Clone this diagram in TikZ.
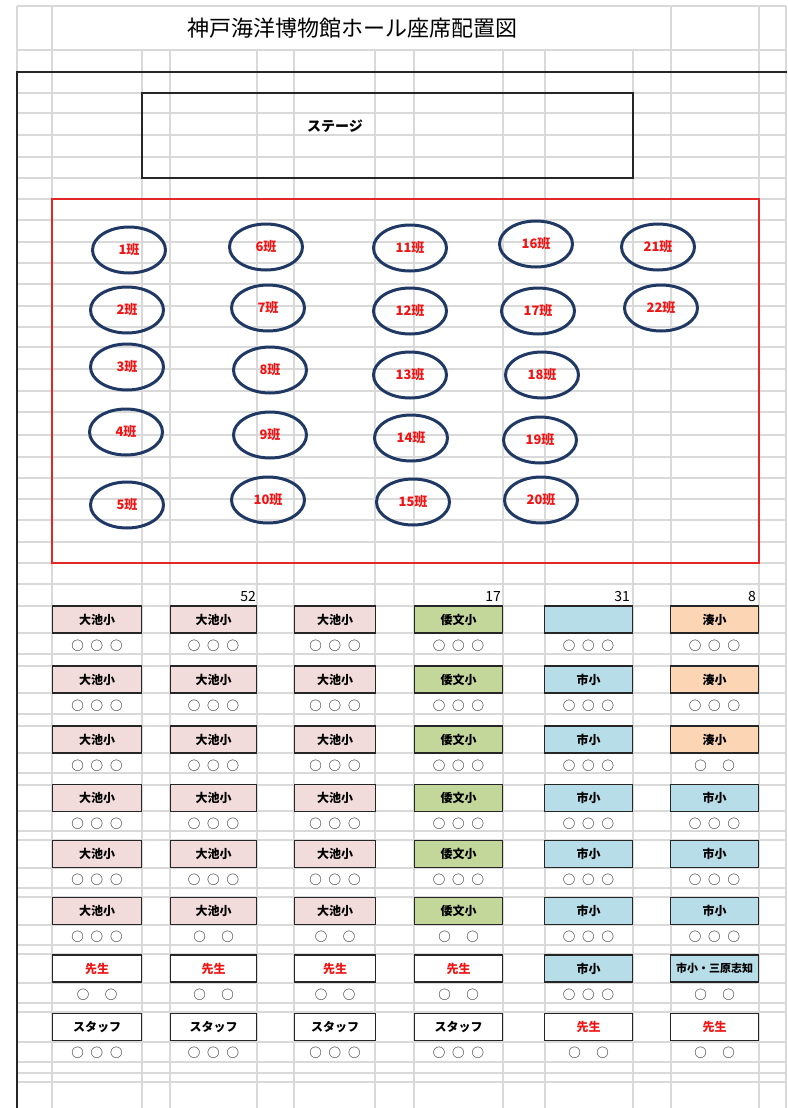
\documentclass[tikz,border=0pt]{standalone}
\usepackage{fontspec}
\usetikzlibrary{shapes.geometric}
\newfontfamily\jp{Noto Sans CJK JP}
\definecolor{kon}{HTML}{1F3864}
\definecolor{aka}{HTML}{F01414}
\definecolor{akawakuiro}{HTML}{E32626}
\definecolor{keisenc}{HTML}{D9D9D9}
\definecolor{ikeiro}{HTML}{F2DCDB}
\definecolor{shitoriiro}{HTML}{C4D79B}
\definecolor{ichiiro}{HTML}{B7DEE8}
\definecolor{minatoiro}{HTML}{FCD5B4}
\newcommand\mitsu{\makebox[19.5pt]{○}\makebox[19.5pt]{○}\makebox[19.5pt]{○}}
\newcommand\futatsu{\makebox[28pt]{○}\makebox[28pt]{○}}
\begin{document}
\begin{tikzpicture}[x=1pt, y=-1pt,
        keisen/.style={keisenc, line width=1.3pt},
        han/.style={ellipse, draw=kon, line width=3pt, minimum width=73pt,
                    minimum height=46pt, inner sep=0pt, text=aka,
                    font=\jp\bfseries\fontsize{13}{13}\selectfont},
        seki/.style={draw=black!85, line width=1.6pt, minimum height=27pt,
                     inner sep=0pt, font=\jp\bfseries\fontsize{12}{12}\selectfont},
        ike/.style={seki, fill=ikeiro},
        shitori/.style={seki, fill=shitoriiro},
        ichi/.style={seki, fill=ichiiro},
        minato/.style={seki, fill=minatoiro},
        sensei/.style={seki, fill=white, text=aka},
        staff/.style={seki, fill=white},
        c1/.style={minimum width=89pt}, c2/.style={minimum width=86pt},
        c3/.style={minimum width=81pt}, c4/.style={minimum width=88pt},
        c5/.style={minimum width=88pt}, c6/.style={minimum width=88pt},
        maru/.style={font=\jp\fontsize{12.5}{12.5}\selectfont, inner sep=0pt,
                     anchor=center, label distance=11.5pt},
        bango/.style={font=\jp\fontsize{14}{14}\selectfont, inner sep=0pt, anchor=east},
    ]
    \fill[white] (0,0) rectangle (787,1108);
    \useasboundingbox (0,0) rectangle (787,1108);
    % keisen
    \foreach \x in {17,52,671,759,786} \draw[keisen] (\x,6) -- (\x,50);
    \foreach \x in {17,52,142,170,257,294,375,414,503,545,633,671,759,786}
        \draw[keisen] (\x,50) -- (\x,1108);
    \foreach \y in {6,50,93,113,135,157,178,199,220,242,263,284,306,327,347,369,
                    391,412,435,457,478,499,520,542,563,584,606,633,654,666,693,714,
                    726,753,773,785,811,831,840,868,888,897,925,945,954,983,1003,
                    1012,1042,1062,1073,1082}
        \draw[keisen] (17,\y) -- (786,\y);
    \draw[line width=1.8pt, black!85] (17,1108) -- (17,72) -- (787,72);
    % daimei
    \node[font=\jp\fontsize{22}{22}\selectfont] (daimei) at (352,28) {神戸海洋博物館ホール座席配置図};
    % butai
    \draw[line width=1.8pt, black!85] (142,93) rectangle (633,178);
    \node[font=\jp\bfseries\fontsize{14}{14}\selectfont] (butai) at (335,126) {ステージ};
    % han
    \draw[akawakuiro, line width=1.4pt] (52,199) rectangle (759,563);
    \node[han] (h1) at (129,250) {1班};
    \node[han] (h2) at (127,310) {2班};
    \node[han] (h3) at (127,367) {3班};
    \node[han] (h4) at (126,432) {4班};
    \node[han] (h5) at (127,505) {5班};
    \node[han] (h6) at (266,247) {6班};
    \node[han] (h7) at (268,308) {7班};
    \node[han] (h8) at (270,370) {8班};
    \node[han] (h9) at (270,435) {9班};
    \node[han] (h10) at (268,500) {10班};
    \node[han] (h11) at (410,248) {11班};
    \node[han] (h12) at (410,311) {12班};
    \node[han] (h13) at (410,375) {13班};
    \node[han] (h14) at (411,438) {14班};
    \node[han] (h15) at (413,502) {15班};
    \node[han] (h16) at (536,244) {16班};
    \node[han] (h17) at (538,311) {17班};
    \node[han] (h18) at (542,375) {18班};
    \node[han] (h19) at (540,440) {19班};
    \node[han] (h20) at (541,500) {20班};
    \node[han] (h21) at (658,247) {21班};
    \node[han] (h22) at (661,308) {22班};
    % ninzuu
    \node[bango] (n52) at (256,597) {52};
    \node[bango] (n17) at (501,597) {17};
    \node[bango] (n31) at (630,597) {31};
    \node[bango] (n8) at (756,597) {8};
    % 1 retsu
    \node[ike, c1, label={[maru]below:\mitsu}] (a1) at (97,619.5) {大池小};
    \node[ike, c2, label={[maru]below:\mitsu}] (a2) at (213.5,619.5) {大池小};
    \node[ike, c3, label={[maru]below:\mitsu}] (a3) at (335,619.5) {大池小};
    \node[shitori, c4, label={[maru]below:\mitsu}] (a4) at (458.5,619.5) {倭文小};
    \node[ichi, c5, label={[maru]below:\mitsu}] (a5) at (588.5,619.5) {};
    \node[minato, c6, label={[maru]below:\mitsu}] (a6) at (714.5,619.5) {湊小};
    % 2 retsu
    \node[ike, c1, label={[maru]below:\mitsu}] (b1) at (97,679.5) {大池小};
    \node[ike, c2, label={[maru]below:\mitsu}] (b2) at (213.5,679.5) {大池小};
    \node[ike, c3, label={[maru]below:\mitsu}] (b3) at (335,679.5) {大池小};
    \node[shitori, c4, label={[maru]below:\mitsu}] (b4) at (458.5,679.5) {倭文小};
    \node[ichi, c5, label={[maru]below:\mitsu}] (b5) at (588.5,679.5) {市小};
    \node[minato, c6, label={[maru]below:\mitsu}] (b6) at (714.5,679.5) {湊小};
    % 3 retsu
    \node[ike, c1, label={[maru]below:\mitsu}] (c1) at (97,739.5) {大池小};
    \node[ike, c2, label={[maru]below:\mitsu}] (c2) at (213.5,739.5) {大池小};
    \node[ike, c3, label={[maru]below:\mitsu}] (c3) at (335,739.5) {大池小};
    \node[shitori, c4, label={[maru]below:\mitsu}] (c4) at (458.5,739.5) {倭文小};
    \node[ichi, c5, label={[maru]below:\mitsu}] (c5) at (588.5,739.5) {市小};
    \node[minato, c6, label={[maru]below:\futatsu}] (c6) at (714.5,739.5) {湊小};
    % 4 retsu
    \node[ike, c1, label={[maru]below:\mitsu}] (d1) at (97,798) {大池小};
    \node[ike, c2, label={[maru]below:\mitsu}] (d2) at (213.5,798) {大池小};
    \node[ike, c3, label={[maru]below:\mitsu}] (d3) at (335,798) {大池小};
    \node[shitori, c4, label={[maru]below:\mitsu}] (d4) at (458.5,798) {倭文小};
    \node[ichi, c5, label={[maru]below:\mitsu}] (d5) at (588.5,798) {市小};
    \node[ichi, c6, label={[maru]below:\mitsu}] (d6) at (714.5,798) {市小};
    % 5 retsu
    \node[ike, c1, label={[maru]below:\mitsu}] (e1) at (97,854) {大池小};
    \node[ike, c2, label={[maru]below:\mitsu}] (e2) at (213.5,854) {大池小};
    \node[ike, c3, label={[maru]below:\mitsu}] (e3) at (335,854) {大池小};
    \node[shitori, c4, label={[maru]below:\mitsu}] (e4) at (458.5,854) {倭文小};
    \node[ichi, c5, label={[maru]below:\mitsu}] (e5) at (588.5,854) {市小};
    \node[ichi, c6, label={[maru]below:\mitsu}] (e6) at (714.5,854) {市小};
    % 6 retsu
    \node[ike, c1, label={[maru]below:\mitsu}] (f1) at (97,911) {大池小};
    \node[ike, c2, label={[maru]below:\futatsu}] (f2) at (213.5,911) {大池小};
    \node[ike, c3, label={[maru]below:\futatsu}] (f3) at (335,911) {大池小};
    \node[shitori, c4, label={[maru]below:\futatsu}] (f4) at (458.5,911) {倭文小};
    \node[ichi, c5, label={[maru]below:\mitsu}] (f5) at (588.5,911) {市小};
    \node[ichi, c6, label={[maru]below:\mitsu}] (f6) at (714.5,911) {市小};
    % 7 retsu
    \node[sensei, c1, label={[maru]below:\futatsu}] (g1) at (97,968.5) {先生};
    \node[sensei, c2, label={[maru]below:\futatsu}] (g2) at (213.5,968.5) {先生};
    \node[sensei, c3, label={[maru]below:\futatsu}] (g3) at (335,968.5) {先生};
    \node[sensei, c4, label={[maru]below:\futatsu}] (g4) at (458.5,968.5) {先生};
    \node[ichi, c5, label={[maru]below:\mitsu}] (g5) at (588.5,968.5) {市小};
    \node[ichi, c6, font=\jp\bfseries\fontsize{11}{11}\selectfont,
          label={[maru]below:\futatsu}] (g6) at (714.5,968.5) {市小・三原志知};
    % 8 retsu
    \node[staff, c1, label={[maru]below:\mitsu}] (k1) at (97,1027) {スタッフ};
    \node[staff, c2, label={[maru]below:\mitsu}] (k2) at (213.5,1027) {スタッフ};
    \node[staff, c3, label={[maru]below:\mitsu}] (k3) at (335,1027) {スタッフ};
    \node[staff, c4, label={[maru]below:\mitsu}] (k4) at (458.5,1027) {スタッフ};
    \node[sensei, c5, label={[maru]below:\futatsu}] (k5) at (588.5,1027) {先生};
    \node[sensei, c6, label={[maru]below:\futatsu}] (k6) at (714.5,1027) {先生};
\end{tikzpicture}
\end{document}
